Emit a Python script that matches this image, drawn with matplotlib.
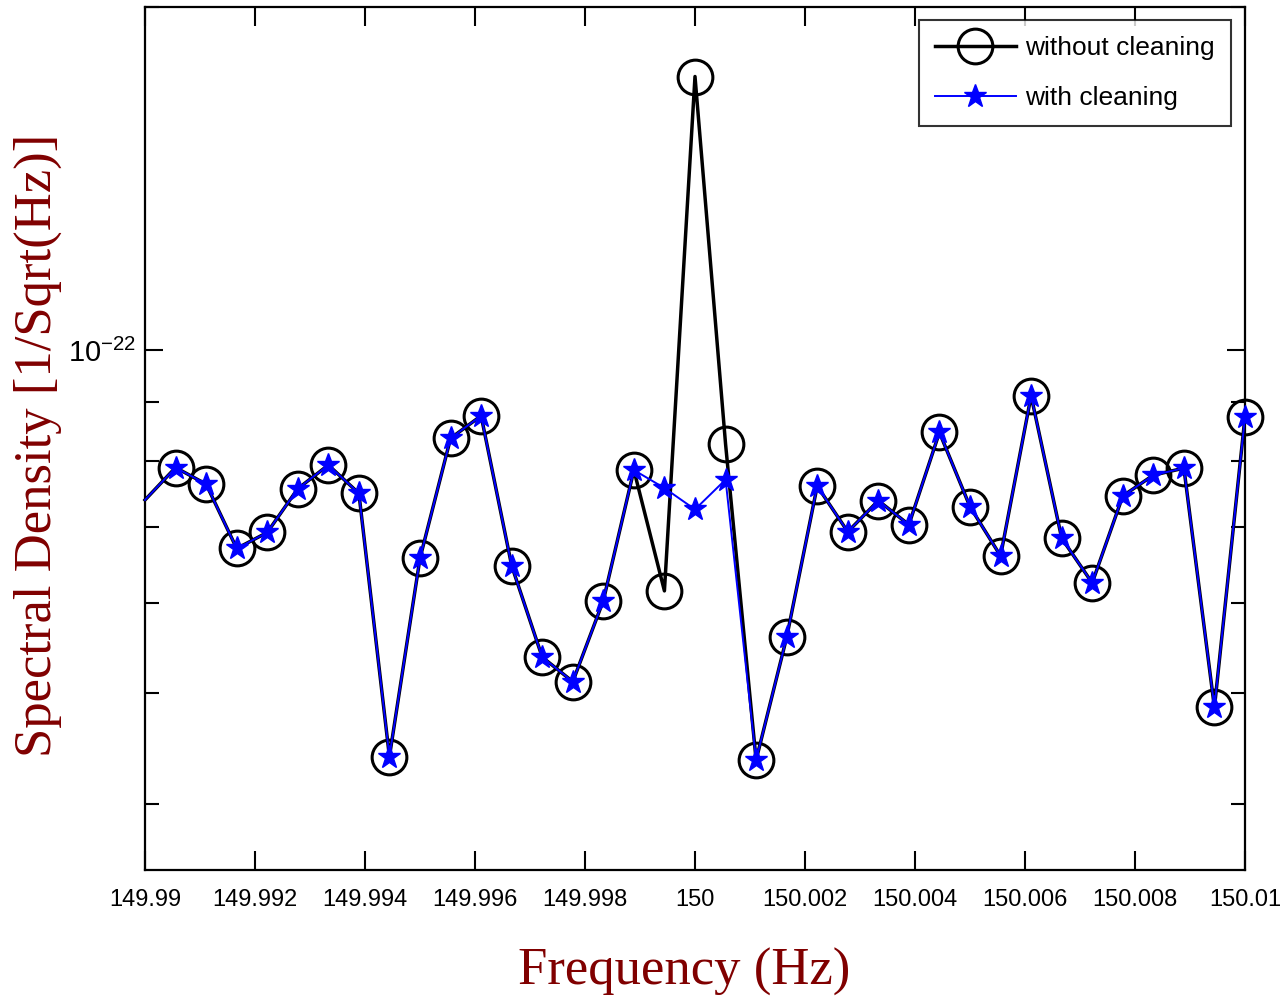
import matplotlib
matplotlib.use("Agg")
import matplotlib.pyplot as plt
from matplotlib.ticker import FixedLocator, NullFormatter

plt.rcParams["mathtext.fontset"] = "custom"
plt.rcParams["mathtext.rm"] = "Liberation Sans"
plt.rcParams["mathtext.it"] = "Liberation Sans"

freq = [149.990000, 149.990556, 149.991111, 149.991667, 149.992222, 149.992778,
        149.993333, 149.993889, 149.994444, 149.995000, 149.995556, 149.996111,
        149.996667, 149.997222, 149.997778, 149.998333, 149.998889, 149.999444,
        150.000000, 150.000556, 150.001111, 150.001667, 150.002222, 150.002778,
        150.003333, 150.003889, 150.004444, 150.005000, 150.005556, 150.006111,
        150.006667, 150.007222, 150.007778, 150.008333, 150.008889, 150.009444,
        150.010000]

without_cleaning = [7.39e-23, 7.89e-23, 7.63e-23, 6.70e-23, 6.92e-23, 7.56e-23,
                    7.93e-23, 7.49e-23, 4.40e-23, 6.57e-23, 8.37e-23, 8.76e-23,
                    6.47e-23, 5.38e-23, 5.12e-23, 6.03e-23, 7.85e-23, 6.15e-23,
                    1.738e-22, 8.27e-23, 4.37e-23, 5.60e-23, 7.60e-23, 6.93e-23,
                    7.38e-23, 7.03e-23, 8.47e-23, 7.29e-23, 6.60e-23, 9.12e-23,
                    6.84e-23, 6.25e-23, 7.45e-23, 7.77e-23, 7.88e-23, 4.86e-23,
                    8.74e-23]

with_cleaning = [7.39e-23, 7.89e-23, 7.63e-23, 6.70e-23, 6.92e-23, 7.56e-23,
                 7.93e-23, 7.49e-23, 4.40e-23, 6.57e-23, 8.37e-23, 8.76e-23,
                 6.47e-23, 5.38e-23, 5.12e-23, 6.03e-23, 7.85e-23, 7.57e-23,
                 7.25e-23, 7.70e-23, 4.37e-23, 5.60e-23, 7.60e-23, 6.93e-23,
                 7.38e-23, 7.03e-23, 8.47e-23, 7.29e-23, 6.60e-23, 9.12e-23,
                 6.84e-23, 6.25e-23, 7.45e-23, 7.77e-23, 7.88e-23, 4.86e-23,
                 8.74e-23]

xticks = [149.99, 149.992, 149.994, 149.996, 149.998, 150.0,
          150.002, 150.004, 150.006, 150.008, 150.01]
xtick_labels = ["149.99", "149.992", "149.994", "149.996", "149.998", "150",
                "150.002", "150.004", "150.006", "150.008", "150.01"]
ymajor = [1e-22]
ymajor_labels = [r"$10^{-22}$"]
yminor = [4e-23, 5e-23, 6e-23, 7e-23, 8e-23, 9e-23, 2e-22]

W, H = 1288, 1002
fig = plt.figure(figsize=(W / 100, H / 100), dpi=100)
ax = fig.add_axes([145 / W, 1 - 870 / H, 1100 / W, (870 - 7) / H])

ax.plot(freq, without_cleaning, color="black", lw=2.5, marker="o",
        markersize=25, markerfacecolor="none", markeredgecolor="black",
        markeredgewidth=2.2, markevery=slice(1, None), label="without cleaning",
        clip_on=False, zorder=2)
ax.plot(freq, with_cleaning, color="#0000ff", lw=1.4, marker="*",
        markersize=17, markerfacecolor="#0000ff", markeredgecolor="#0000ff",
        markevery=slice(1, None), label="with cleaning", clip_on=False,
        zorder=3)

ax.set_yscale("log")
ax.set_xlim(149.99, 150.01)
ax.set_ylim(3.5e-23, 2.0e-22)

ax.set_xticks(xticks)
ax.set_xticklabels(xtick_labels)
ax.yaxis.set_major_locator(FixedLocator(ymajor))
ax.yaxis.set_minor_locator(FixedLocator(yminor))
ax.yaxis.set_minor_formatter(NullFormatter())
ax.set_yticklabels(ymajor_labels)
ax.xaxis.set_minor_locator(FixedLocator([]))

ax.tick_params(axis="both", which="both", direction="in", top=True, right=True,
               width=1.5, colors="black")
ax.tick_params(axis="x", which="major", length=14, pad=14, labelsize=17)
ax.tick_params(axis="y", which="major", length=13, pad=6, labelsize=21)
ax.tick_params(axis="y", which="minor", length=10)
for lab in ax.get_xticklabels() + ax.get_yticklabels():
    lab.set_fontfamily("Liberation Sans")
for s in ax.spines.values():
    s.set_linewidth(1.6)

ax.set_xlabel("Frequency (Hz)", fontfamily="Liberation Serif", fontsize=38,
              color="#800000")
ax.xaxis.set_label_coords((684 - 145) / 1100, (870 - 972) / 863)
ax.xaxis.label.set_va("center")
ax.set_ylabel("Spectral Density [1/Sqrt(Hz)]", fontfamily="Liberation Serif",
              fontsize=38, color="#800000")
ax.yaxis.set_label_coords((38 - 145) / 1100, (870 - 445) / 863)
ax.yaxis.label.set_va("center")

leg = ax.legend(loc="upper right",
                bbox_to_anchor=((1231 - 145) / 1100, (870 - 20) / 863),
                prop={"family": "Liberation Sans", "size": 19},
                frameon=True, fancybox=False, edgecolor="black",
                handlelength=3.1, borderpad=0.6, labelspacing=1.0,
                handletextpad=0.35, markerscale=1.0, borderaxespad=0)
leg.get_frame().set_linewidth(1.5)

fig.savefig("out.png", dpi=100)
